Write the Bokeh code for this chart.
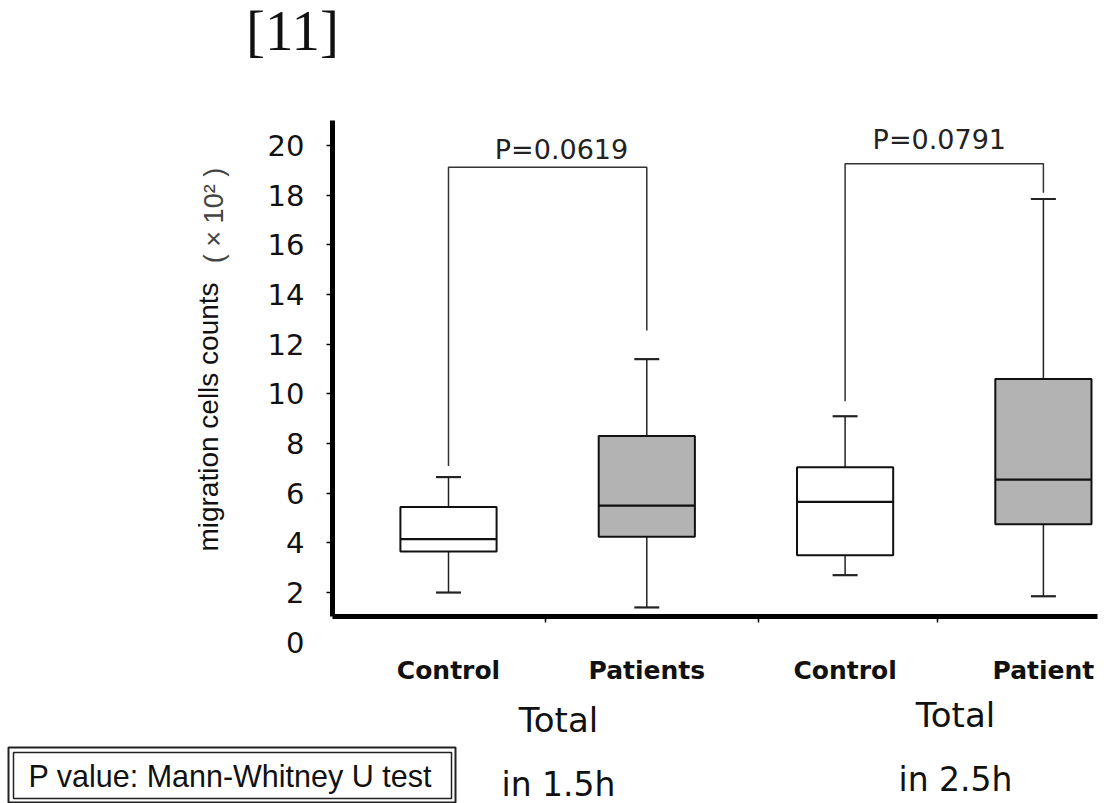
import numpy as np
from bokeh.plotting import figure
from bokeh.models import FixedTicker, Label, Range1d, BoxAnnotation
from bokeh.embed import file_html
from bokeh.resources import INLINE

# ---------------- data ----------------
categories = ["Control", "Patients", "Control", "Patient"]
is_patient = [False, True, False, True]
lower = [2.0, 1.4, 2.7, 1.85]
q1 = [3.65, 4.25, 3.5, 4.75]
median = [4.15, 5.5, 5.65, 6.55]
q3 = [5.45, 8.3, 7.05, 10.6]
upper = [6.65, 11.4, 9.1, 17.85]

group_top = ["Total", "Total"]
group_bottom = ["in 1.5h", "in 2.5h"]

p_values = ["P=0.0619", "P=0.0791"]
bracket_pairs = [(0, 1), (2, 3)]
bracket_y = [19.13, 19.27]
bracket_left_end = [7.1, 9.7]
bracket_right_end = [12.55, 18.1]

y_ticks = [0, 2, 4, 6, 8, 10, 12, 14, 16, 18, 20]
y_label = "migration cells counts"
y_unit = "( \u00d7 10\u00b2 )"
figure_tag = "[11]"
test_note = "P value: Mann-Whitney U test"

# ---------------- geometry / style ----------------
W, H = 1104, 803
AX_L, AX_R, AX_T, AX_B = 332, 1097, 120, 616   # plot area in page pixels
X0_PX, X_STEP = 448.0, 198.3      # pixel of x=1, pixels per x unit
Y0_PX, Y_STEP = 641.7, 24.83      # pixel of y=0, pixels per y unit
BASE_SHIFT = 0.39                 # alphabetic baseline correction (x font size)


def dx(px):
    return 1 + (px - X0_PX) / X_STEP


def dy(py):
    return (Y0_PX - py) / Y_STEP


def dyb(py, size):
    """data y for a text whose baseline should sit at page pixel py"""
    return dy(py - BASE_SHIFT * size)


BOX_W = 0.485
CAP_W = 0.126
GRAY = "#b3b3b3"
TICK_FONT = "DejaVu Sans"

p = figure(width=W, height=H,
           x_range=Range1d(dx(0), dx(W)), y_range=Range1d(dy(H), dy(0)),
           output_backend="svg", toolbar_location=None, min_border=0)
p.xgrid.visible = False
p.ygrid.visible = False
p.outline_line_color = None
p.background_fill_color = "white"
p.border_fill_color = "white"

# y axis
p.yaxis.fixed_location = dx(AX_L)
p.yaxis.bounds = (dy(AX_B), dy(AX_T))
p.yaxis.ticker = FixedTicker(ticks=[t for t in y_ticks if t > dy(AX_B)], minor_ticks=[])
p.yaxis.axis_line_width = 5
p.yaxis.axis_line_color = "black"
p.yaxis.major_tick_out = 6
p.yaxis.major_tick_in = 0
p.yaxis.major_tick_line_width = 1.5
p.yaxis.minor_tick_out = 0
p.yaxis.minor_tick_in = 0
p.yaxis.major_label_text_font = TICK_FONT
p.yaxis.major_label_text_font_size = "29px"
p.yaxis.major_label_text_color = "#111111"
p.yaxis.major_label_standoff = 22

# x axis
xs = np.arange(1, len(categories) + 1)
minor_marks = [dx(545), dx(758), dx(937)]
p.xaxis.fixed_location = dy(AX_B)
p.xaxis.bounds = (dx(AX_L), dx(AX_R))
p.xaxis.ticker = FixedTicker(ticks=list(xs), minor_ticks=minor_marks)
p.xaxis.major_label_overrides = {int(x): c for x, c in zip(xs, categories)}
p.xaxis.axis_line_width = 5
p.xaxis.axis_line_color = "black"
p.xaxis.major_tick_out = 0
p.xaxis.major_tick_in = 0
p.xaxis.minor_tick_out = 6
p.xaxis.minor_tick_in = 0
p.xaxis.minor_tick_line_color = "black"
p.xaxis.minor_tick_line_width = 1.5
p.xaxis.major_label_text_font = TICK_FONT
p.xaxis.major_label_text_font_style = "bold"
p.xaxis.major_label_text_font_size = "25px"
p.xaxis.major_label_text_color = "#111111"
p.xaxis.major_label_standoff = 33

# ---------------- boxes ----------------
fills = [GRAY if pt else "white" for pt in is_patient]
p.segment(x0=xs, y0=q3, x1=xs, y1=upper, line_color="#222222", line_width=1.5)
p.segment(x0=xs, y0=lower, x1=xs, y1=q1, line_color="#222222", line_width=1.5)
p.segment(x0=xs - CAP_W / 2, y0=upper, x1=xs + CAP_W / 2, y1=upper,
          line_color="#222222", line_width=2.2)
p.segment(x0=xs - CAP_W / 2, y0=lower, x1=xs + CAP_W / 2, y1=lower,
          line_color="#222222", line_width=2.2)
p.vbar(x=xs, width=BOX_W, bottom=q1, top=q3, fill_color=fills,
       line_color="#111111", line_width=2)
p.segment(x0=xs - BOX_W / 2, y0=median, x1=xs + BOX_W / 2, y1=median,
          line_color="#111111", line_width=2.2)

# ---------------- significance brackets ----------------
bx, by = [], []
for (i, j), yb, yl, yr in zip(bracket_pairs, bracket_y, bracket_left_end, bracket_right_end):
    bx.append([xs[i], xs[i], xs[j], xs[j]])
    by.append([yl, yb, yb, yr])
p.multi_line(xs=bx, ys=by, line_color="#333333", line_width=1.5)

p_text_dx = [0.07, -0.025]
p_text_base_px = [159.3, 149.5]
for (i, j), txt, ox, bpx in zip(bracket_pairs, p_values, p_text_dx, p_text_base_px):
    p.add_layout(Label(x=(xs[i] + xs[j]) / 2 + ox, y=dyb(bpx, 27), text=txt,
                       text_align="center", text_baseline="alphabetic",
                       text_font=TICK_FONT, text_font_size="27px",
                       text_color="#222222"))

# ---------------- extra texts ----------------
# zero tick label (sits below the axis line in the original)
p.add_layout(Label(x=dx(304), y=y_ticks[0], text=str(y_ticks[0]),
                   text_align="right", text_baseline="middle",
                   text_font=TICK_FONT, text_font_size="29px",
                   text_color="#111111"))

# y axis title and unit
p.add_layout(Label(x=dx(207.5), y=dy(416.5), text=y_label, angle=np.pi / 2,
                   text_align="center", text_baseline="middle",
                   text_font="Liberation Sans", text_font_size="28px",
                   text_color="#111111"))
p.add_layout(Label(x=dx(213), y=dy(215), text=y_unit, angle=np.pi / 2,
                   text_align="center", text_baseline="middle",
                   text_font="Liberation Sans", text_font_size="27px",
                   text_color="#444444"))

# figure tag
p.add_layout(Label(x=dx(292), y=dyb(52, 57), text=figure_tag,
                   text_align="center", text_baseline="alphabetic",
                   text_font="Liberation Serif", text_font_size="57px",
                   text_color="#111111"))

# group labels
group_cx = [dx(558), dx(955)]
group_top_px = [733, 728]
group_bot_px = [797, 792]
for cx, t, b, tp, bp in zip(group_cx, group_top, group_bottom, group_top_px, group_bot_px):
    p.add_layout(Label(x=cx, y=dyb(tp, 34), text=t, text_align="center",
                       text_baseline="alphabetic", text_font=TICK_FONT,
                       text_font_size="34px", text_color="#111111"))
    p.add_layout(Label(x=cx, y=dyb(bp, 33), text=b, text_align="center",
                       text_baseline="alphabetic", text_font=TICK_FONT,
                       text_font_size="33px", text_color="#111111"))

# test note box (double border)
p.add_layout(BoxAnnotation(left=dx(8), right=dx(455), top=dy(747), bottom=dy(802),
                           fill_color="white", fill_alpha=1.0,
                           line_color="#222222", line_width=2, line_alpha=1.0))
p.add_layout(BoxAnnotation(left=dx(13), right=dx(451), top=dy(752), bottom=dy(798),
                           fill_color="white", fill_alpha=1.0,
                           line_color="#222222", line_width=1.5, line_alpha=1.0))
p.add_layout(Label(x=dx(28), y=dyb(787, 30.5), text=test_note, text_align="left",
                   text_baseline="alphabetic", text_font="Liberation Sans",
                   text_font_size="30.5px", text_color="#111111"))

open("out.html", "w").write(file_html(p, INLINE))
